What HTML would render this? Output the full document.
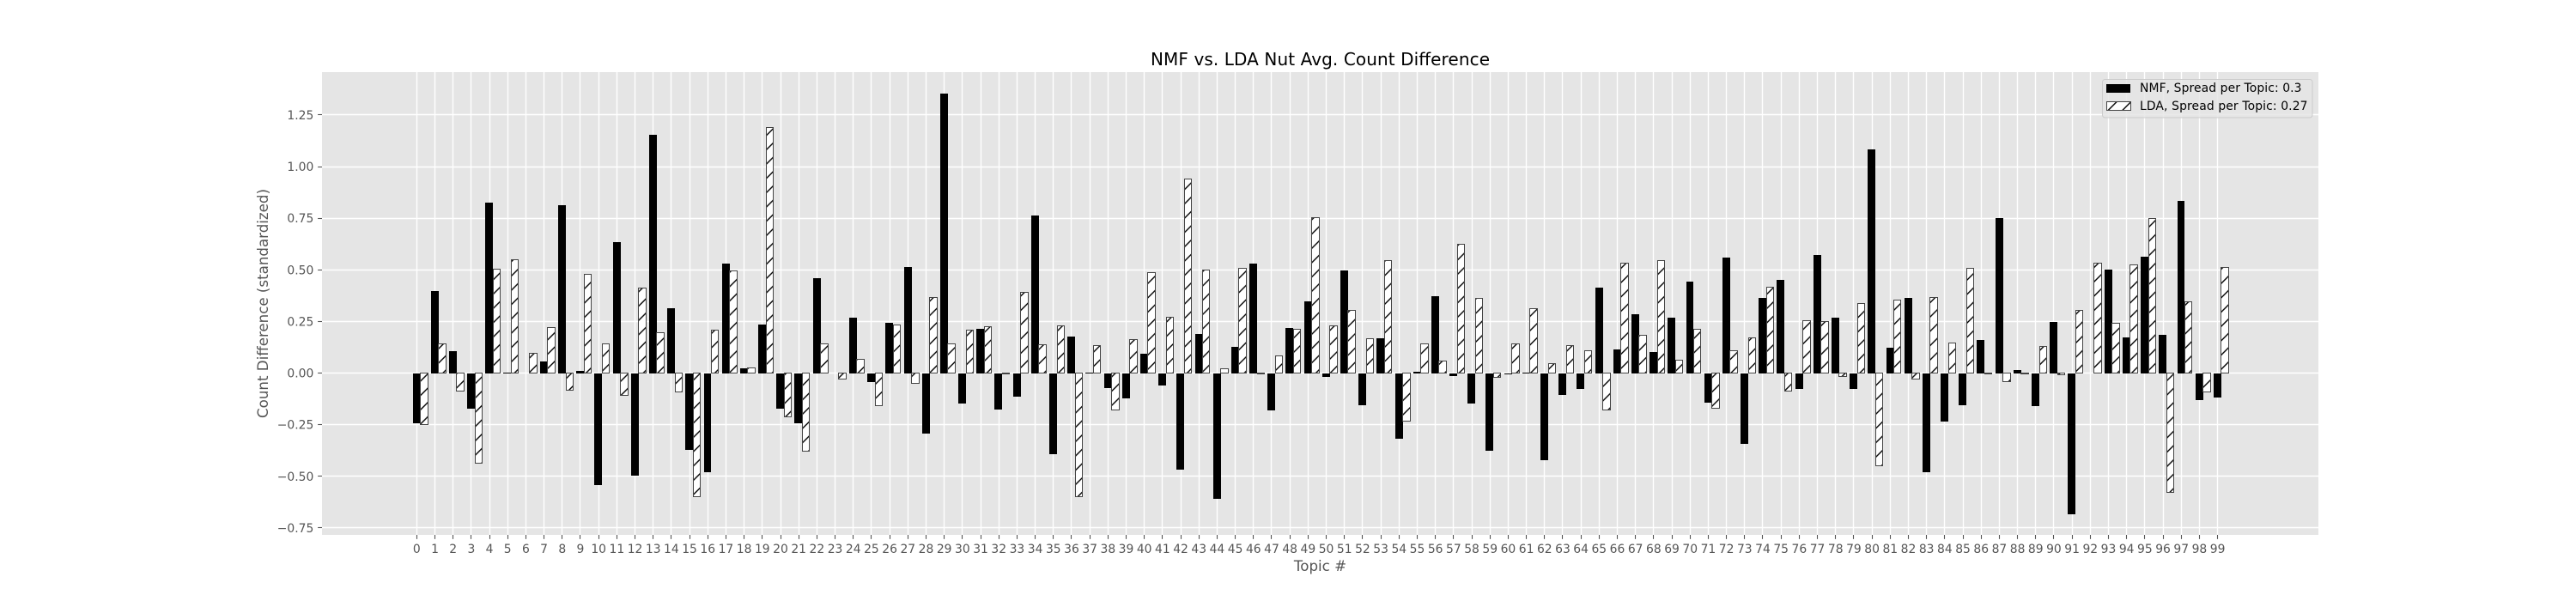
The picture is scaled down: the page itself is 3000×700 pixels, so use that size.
<!DOCTYPE html>
<html lang="en">
<head>
<meta charset="utf-8">
<title>NMF vs. LDA Nut Avg. Count Difference</title>
<style>
  html, body { margin: 0; padding: 0; background: #ffffff; }
  body { width: 3000px; height: 700px; overflow: hidden; }
  svg { display: block; font-family: "DejaVu Sans", "Liberation Sans", sans-serif; }
</style>
</head>
<body>
<svg id="chart" xmlns="http://www.w3.org/2000/svg" width="3000" height="700" viewBox="0 0 3000 700">
  <defs>
    <pattern id="hatch" patternUnits="userSpaceOnUse" x="0.3" y="0" width="16.6667" height="16.6667">
      <rect x="0" y="0" width="16.6667" height="16.6667" fill="#ffffff"></rect>
      <path d="M-2 18.6667L18.6667 -2M-2 2L2 -2M14.6667 18.6667L18.6667 14.6667" stroke="#000000" stroke-width="1.39" fill="none"></path>
    </pattern>
  </defs>
  <rect x="0" y="0" width="3000" height="700" fill="#ffffff"></rect>
  <rect x="375" y="84" width="2325" height="539" fill="#E5E5E5"></rect>
  <g id="grid"></g>
  <g id="bars-nmf"></g>
  <g id="bars-lda"></g>
  <g id="x-axis"></g>
  <g id="y-axis"></g>
  <text x="1537.5" y="76" font-size="20" text-anchor="middle" textLength="395" fill="#000000">NMF vs. LDA Nut Avg. Count Difference</text>
  <text x="1537.5" y="665" font-size="16.67" text-anchor="middle" fill="#555555">Topic #</text>
  <text transform="translate(312 353.5) rotate(-90)" x="0" y="0" font-size="16.67" text-anchor="middle" textLength="267" fill="#555555">Count Difference (standardized)</text>
  <g>
    <rect x="2448.5" y="92.5" width="244.5" height="44.5" rx="3" ry="3" fill="#E5E5E5" fill-opacity="0.8" stroke="#cccccc" stroke-width="1"></rect>
    <rect x="2453" y="98" width="28" height="10" fill="#000000"></rect>
    <text x="2492" y="107" font-size="13.89" textLength="188.5" fill="#000000">NMF, Spread per Topic: 0.3</text>
    <rect x="2453.5" y="118.5" width="28" height="10" fill="url(#hatch)" stroke="#444444" stroke-width="1"></rect>
    <text x="2492" y="128" font-size="13.89" textLength="195.5" fill="#000000">LDA, Spread per Topic: 0.27</text>
  </g>
</svg>
<script>
const nmfValues = [
  -0.245, 0.396, 0.105, -0.173, 0.824, 0.002, 0, 0.056, 0.811, 0.01,
  -0.544, 0.633, -0.498, 1.153, 0.313, -0.374, -0.482, 0.53, 0.022, 0.234,
  -0.173, -0.245, 0.458, 0, 0.267, -0.045, 0.242, 0.512, -0.294, 1.352,
  -0.148, 0.213, -0.178, -0.116, 0.762, -0.395, 0.175, 0.002, -0.073, -0.124,
  0.092, -0.062, -0.469, 0.188, -0.611, 0.126, 0.53, -0.181, 0.218, 0.347,
  -0.019, 0.496, -0.158, 0.167, -0.32, 0.005, 0.371, -0.016, -0.148, -0.377,
  -0.008, 0.002, -0.423, -0.107, -0.078, 0.412, 0.113, 0.283, 0.1, 0.267,
  0.442, -0.145, 0.558, -0.344, 0.363, 0.453, -0.078, 0.571, 0.27, -0.078,
  1.082, 0.121, 0.363, -0.482, -0.235, -0.158, 0.159, 0.749, 0.013, -0.161,
  0.247, -0.686, 0, 0.5, 0.172, 0.562, 0.185, 0.832, -0.132, -0.119
];
const ldaValues = [
  -0.25, 0.14, -0.0875, -0.4375, 0.503, 0.549, 0.095, 0.22, -0.084, 0.477,
  0.14, -0.108, 0.41, 0.194, -0.092, -0.6, 0.207, 0.495, 0.024, 1.188,
  -0.21, -0.38, 0.14, -0.03, 0.065, -0.159, 0.232, -0.051, 0.366, 0.14,
  0.207, 0.224, -0.002, 0.39, 0.137, 0.228, -0.6, 0.132, -0.18, 0.162,
  0.485, 0.269, 0.939, 0.498, 0.021, 0.506, -0.006, 0.083, 0.21, 0.753,
  0.228, 0.302, 0.165, 0.544, -0.231, 0.14, 0.057, 0.624, 0.361, -0.021,
  0.14, 0.312, 0.045, 0.132, 0.108, -0.177, 0.531, 0.183, 0.544, 0.062,
  0.21, -0.172, 0.108, 0.17, 0.415, -0.089, 0.253, 0.248, -0.018, 0.336,
  -0.45, 0.353, -0.03, 0.366, 0.145, 0.506, -0.002, -0.043, -0.006, 0.129,
  -0.01, 0.302, 0.531, 0.24, 0.523, 0.748, -0.579, 0.345, -0.092, 0.511
];
const yTickValues = [1.25, 1.0, 0.75, 0.5, 0.25, 0, -0.25, -0.5, -0.75];
const yTickLabels = ["1.25", "1.00", "0.75", "0.50", "0.25", "0.00", "\u22120.25", "\u22120.50", "\u22120.75"];

const SVG_NS = "http://www.w3.org/2000/svg";
const plot = { left: 375, right: 2700, top: 84, bottom: 623 };
const xZero = 485.3, xUnit = 21.185;
const yZero = 434.5, yUnit = 240.5;
const barWidthUnits = 0.4;

function xScale(v) { return xZero + xUnit * v; }
function yScale(v) { return yZero - yUnit * v; }
function snap(p) { return Math.floor(p) + 0.5; }
function make(tag, parent, attrs) {
  const el = document.createElementNS(SVG_NS, tag);
  for (const k in attrs) el.setAttribute(k, attrs[k]);
  parent.appendChild(el);
  return el;
}

const gridGroup = document.getElementById("grid");
const xAxisGroup = document.getElementById("x-axis");
const yAxisGroup = document.getElementById("y-axis");
const nmfGroup = document.getElementById("bars-nmf");
const ldaGroup = document.getElementById("bars-lda");

yTickValues.forEach(function (v, i) {
  const y = snap(yScale(v));
  const gridLine = make("line", gridGroup, { x1: plot.left, x2: plot.right, y1: y, y2: y, stroke: "#ffffff", "stroke-width": 1.39 });
  
  
  const tick = make("line", yAxisGroup, { x1: plot.left - 4.86, x2: plot.left, y1: y, y2: y, stroke: "#555555", "stroke-width": 1.1 });
  
  
  const label = make("text", yAxisGroup, { x: 365.3, y: yScale(v) + 5, "font-size": 13.89, "text-anchor": "end", fill: "#555555" });
  
  
  label.textContent = yTickLabels[i];
});

nmfValues.forEach(function (v, i) {
  const x = snap(xScale(i));
  const gridLine = make("line", gridGroup, { x1: x, x2: x, y1: plot.top, y2: plot.bottom, stroke: "#ffffff", "stroke-width": 1.39 });
  
  
  const tick = make("line", xAxisGroup, { x1: x, x2: x, y1: plot.bottom, y2: plot.bottom + 4.86, stroke: "#555555", "stroke-width": 1.1 });
  
  
  const label = make("text", xAxisGroup, { x: xScale(i), y: 644, "font-size": 13.89, "text-anchor": "middle", fill: "#555555" });
  
  
  label.textContent = String(i);
});

nmfValues.forEach(function (v, i) {
  if (v === 0) return;
  const half = barWidthUnits * xUnit / 2;
  const left = Math.floor(xScale(i) - half);
  const right = Math.round(xScale(i) + half);
  const a = Math.round(yScale(Math.max(v, 0)));
  let b = Math.round(yScale(Math.min(v, 0)));
  if (b - a < 1) b = a + 1;
  const bar = make("rect", nmfGroup, { x: left, y: a, width: right - left, height: b - a, fill: "#000000" });
  
  
});

ldaValues.forEach(function (v, i) {
  const half = barWidthUnits * xUnit / 2;
  const cx = xScale(i + barWidthUnits);
  const left = snap(cx - half);
  const right = snap(cx + half);
  const a = snap(yScale(Math.max(v, 0)));
  let b = snap(yScale(Math.min(v, 0)));
  if (b - a < 1) b = a + 1;
  const bar = make("rect", ldaGroup, { x: left, y: a, width: right - left, height: b - a, fill: "url(#hatch)", stroke: "#444444", "stroke-width": 1 });
  
  
});
</script>
</body>
</html>
